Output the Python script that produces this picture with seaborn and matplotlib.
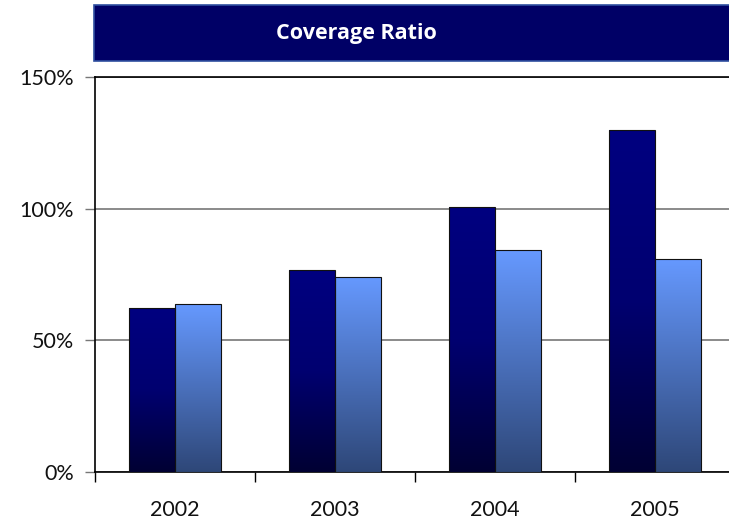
import numpy as np
import pandas as pd
import matplotlib
matplotlib.use("Agg")
import matplotlib.pyplot as plt
import seaborn as sns
from matplotlib.patches import Rectangle
from matplotlib.colors import LinearSegmentedColormap

years = ["2002", "2003", "2004", "2005"]
series_a = [62.3, 76.7, 100.5, 129.9]
series_b = [63.8, 74.1, 84.3, 80.9]
series_names = ["A", "B"]
yticks = [0, 50, 100, 150]
ytick_labels = ["0%", "50%", "100%", "150%"]
title = "Coverage Ratio"

df = pd.DataFrame({
    "year": years * 2,
    "value": series_a + series_b,
    "series": [series_names[0]] * 4 + [series_names[1]] * 4,
})

sns.set_theme(style="white")
plt.rcParams["font.family"] = ["Lato", "DejaVu Sans"]

fig = plt.figure(figsize=(7.29, 5.19), dpi=100)
ax = fig.add_axes([95 / 729, 47 / 519, 640 / 729, 395 / 519])

sns.barplot(data=df, x="year", y="value", hue="series",
            palette=["#000080", "#6699FF"], width=0.575, gap=0,
            edgecolor="#111111", linewidth=0.8, legend=False, ax=ax,
            zorder=3)

grads = {
    0: LinearSegmentedColormap.from_list("a", ["#000033", "#000070", "#000080"]),
    1: LinearSegmentedColormap.from_list("b", ["#2E4778", "#6699FF"]),
}
grad = np.linspace(0, 1, 256).reshape(-1, 1)
patches = list(ax.patches)
for i, p in enumerate(patches):
    s = i // 4
    x0, y0 = p.get_x(), p.get_y()
    w, h = p.get_width(), p.get_height()
    im = ax.imshow(grad, cmap=grads[s], origin="lower", aspect="auto",
                   extent=[x0, x0 + w, y0, y0 + h], zorder=3.5,
                   interpolation="bicubic")
    im.set_clip_path(p)
    p.set_facecolor("none")
    p.set_zorder(4)

ax.set_xlim(-0.5, 3.5)
ax.set_ylim(0, 150)
ax.set_yticks(yticks)
ax.set_yticklabels(ytick_labels, fontsize=15.5, color="#111111")
ax.set_xticks([0, 1, 2, 3])
ax.set_xticklabels(years, fontsize=15.5, color="#111111")
ax.set_xlabel("")
ax.set_ylabel("")
ax.yaxis.grid(True, color="#777777", linewidth=1.2, zorder=0)
ax.set_axisbelow(True)

for side in ["left", "top", "bottom"]:
    ax.spines[side].set_visible(True)
    ax.spines[side].set_color("black")
    ax.spines[side].set_linewidth(1.2)
ax.spines["right"].set_visible(False)

ax.tick_params(axis="y", which="major", left=True, length=7, width=1,
               color="#777777", pad=8)
ax.tick_params(axis="x", which="major", bottom=False, pad=14)
# category boundary ticks
ax.set_xticks([-0.5, 0.5, 1.5, 2.5, 3.5], minor=True)
ax.tick_params(axis="x", which="minor", bottom=True, length=7, width=1,
               color="black")

# title banner
fig.patches.append(Rectangle((94 / 729, (519 - 61) / 519), 0.9, 56 / 519,
                             transform=fig.transFigure, facecolor="#000066",
                             edgecolor="#2F4F9F", linewidth=1.2))
fig.text(356 / 729, (519 - 33) / 519, title, color="white", fontsize=15.5,
         fontweight="bold", ha="center", va="center",
         family=["Open Sans", "DejaVu Sans"])

fig.savefig("out.png", dpi=100)
